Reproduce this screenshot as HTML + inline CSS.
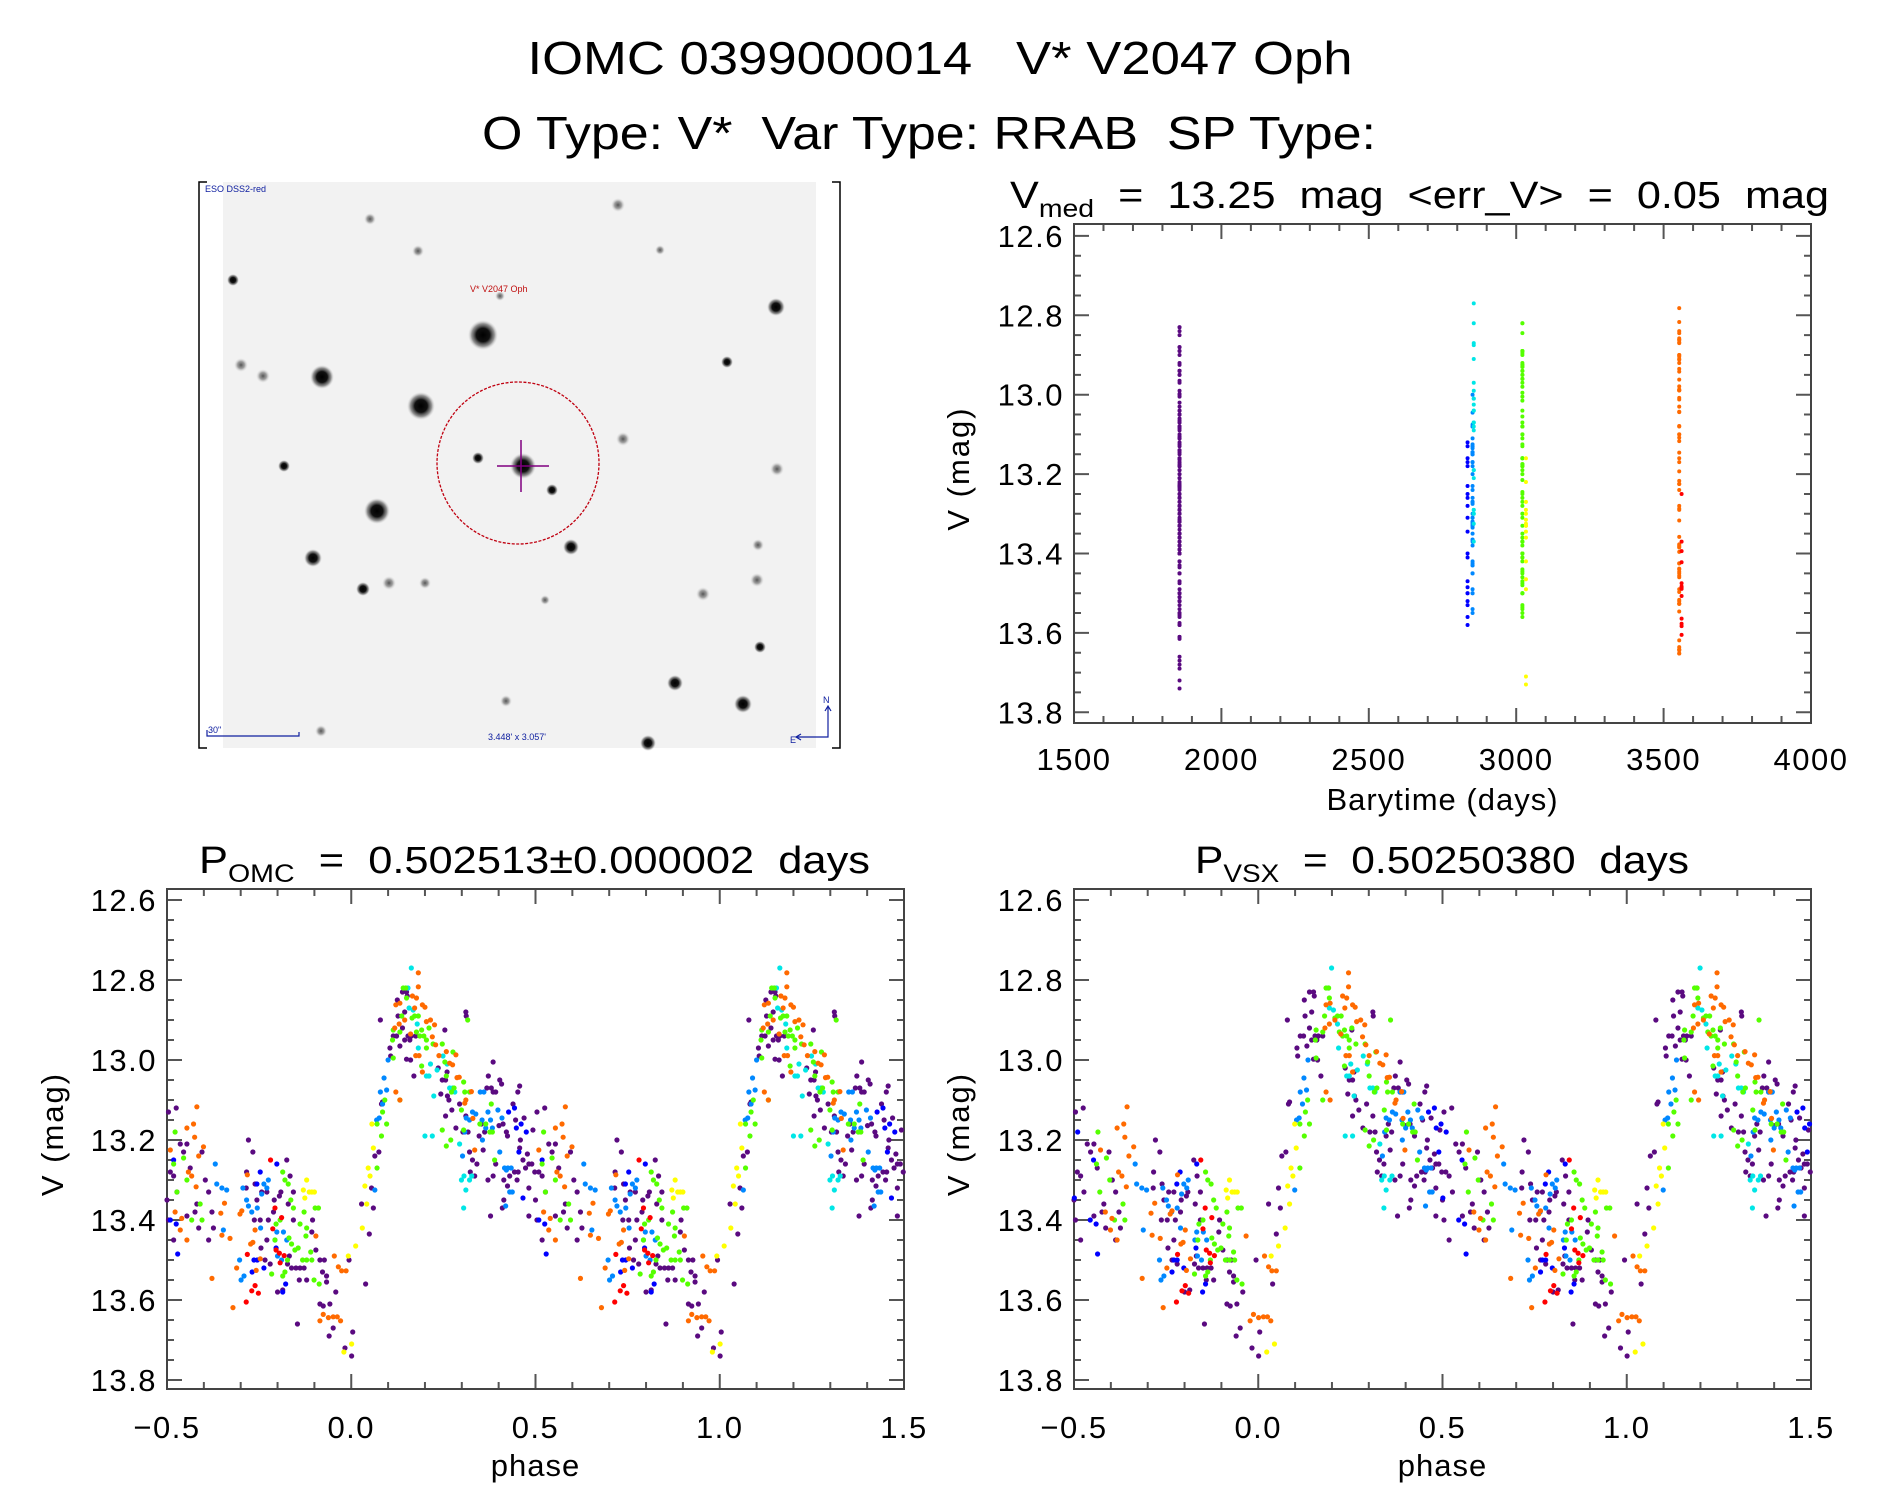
<!DOCTYPE html>
<html><head><meta charset="utf-8">
<style>
html,body{margin:0;padding:0;background:#fff;}
svg{display:block;font-family:"Liberation Sans","DejaVu Sans",sans-serif;}
text{white-space:pre;}
</style></head>
<body>
<svg id="fig" width="1889" height="1494" viewBox="0 0 1889 1494" xmlns="http://www.w3.org/2000/svg" xml:space="preserve">
<defs>
<radialGradient id="starg"><stop offset="0" stop-color="#000"/><stop offset="0.45" stop-color="#111"/><stop offset="0.75" stop-color="#666" stop-opacity="0.7"/><stop offset="1" stop-color="#ccc" stop-opacity="0"/></radialGradient>
<radialGradient id="starf"><stop offset="0" stop-color="#555"/><stop offset="0.5" stop-color="#888" stop-opacity="0.8"/><stop offset="1" stop-color="#ddd" stop-opacity="0"/></radialGradient>
</defs>
<text x="940" y="74" font-size="46" text-anchor="middle" textLength="825" lengthAdjust="spacingAndGlyphs" fill="#000">IOMC 0399000014   V* V2047 Oph</text>
<text x="929" y="149" font-size="46" text-anchor="middle" textLength="894" lengthAdjust="spacingAndGlyphs" fill="#000">O Type: V*  Var Type: RRAB  SP Type:</text>

<g id="skyimg">
<rect x="199" y="182" width="641" height="566" fill="#fff"/>
<rect x="223" y="182" width="593" height="566" fill="#f2f2f2"/>
<path d="M207 182 H199 V748 H207 M832 182 H840 V748 H832" fill="none" stroke="#000" stroke-width="1.5"/>
</g>
<g id="plots"></g>
</svg>
<script>
// ---------------- data ----------------
const groupNames = ['purple','blue','azure','cyan','green','yellow','orange','red'];
const groupColors = ['#5a0a80','#0000ff','#0088ff','#00e6e6','#55ff00','#ffff00','#ff6a00','#ff0000'];
const groupTimes = [1858, 2835, 2852, 2856, 3021, 3033, 3553, 3561];
const groupShiftVSX = [0.0, 0.035, 0.035, 0.036, 0.043, 0.043, 0.063, 0.063];

const purplePts = [[-0.496,13.13],[-0.475,13.12],[-0.491,13.28],[-0.482,13.29],[-0.5,13.35],[-0.473,13.33],[-0.496,13.40],[-0.482,13.45],[-0.464,13.21],[-0.446,13.21],[-0.455,13.23],[-0.437,13.27],[-0.446,13.39],[-0.424,13.38],[-0.419,13.36],[-0.396,13.30],[-0.405,13.23],[-0.414,13.42],[-0.387,13.33],[-0.378,13.38],[-0.374,13.42],[-0.387,13.45],[-0.279,13.20],[-0.267,13.23],[-0.284,13.28],[-0.285,13.32],[-0.261,13.31],[-0.256,13.35],[-0.243,13.33],[-0.229,13.33],[-0.263,13.40],[-0.247,13.40],[-0.225,13.40],[-0.229,13.45],[-0.245,13.47],[-0.234,13.50],[-0.220,13.51],[-0.211,13.38],[-0.209,13.35],[-0.195,13.34],[-0.191,13.33],[-0.175,13.25],[-0.166,13.29],[-0.171,13.36],[-0.157,13.33],[-0.157,13.40],[-0.168,13.49],[-0.173,13.51],[-0.162,13.52],[-0.150,13.52],[-0.139,13.52],[-0.128,13.52],[-0.141,13.55],[-0.121,13.55],[-0.107,13.43],[-0.096,13.475],[-0.105,13.40],[-0.085,13.50],[-0.073,13.50],[-0.078,13.53],[-0.067,13.54],[-0.067,13.555],[-0.085,13.61],[-0.076,13.615],[-0.058,13.61],[-0.042,13.58],[-0.200,13.58],[-0.186,13.575],[-0.146,13.66],[-0.060,13.69],[-0.049,13.67],[-0.017,13.72],[0.001,13.74],[0.004,13.68],[-0.006,13.50],[0.028,13.36],[0.039,13.56],[0.049,13.435],[0.060,13.37],[0.055,13.32],[0.075,13.23],[0.064,13.24],[0.079,12.90],[0.082,13.11],[0.085,13.105],[0.105,12.97],[0.107,12.99],[0.114,12.94],[0.125,12.85],[0.127,12.89],[0.123,12.94],[0.132,12.965],[0.139,12.92],[0.145,12.88],[0.150,12.83],[0.152,12.84],[0.139,12.83],[0.145,12.95],[0.154,12.94],[0.159,12.95],[0.163,12.94],[0.150,12.998],[0.161,13.00],[0.170,13.04],[0.175,12.94],[0.254,12.925],[0.311,12.88],[0.312,12.89],[0.236,13.02],[0.247,13.05],[0.256,13.05],[0.260,13.03],[0.243,13.085],[0.256,13.14],[0.261,13.09],[0.265,13.10],[0.273,13.125],[0.284,13.17],[0.294,13.11],[0.303,13.18],[0.311,13.14],[0.317,13.18],[0.321,13.23],[0.329,13.25],[0.323,13.28],[0.335,13.29],[0.341,13.26],[0.347,13.19],[0.353,13.16],[0.358,13.225],[0.362,13.18],[0.368,13.07],[0.380,13.07],[0.385,13.005],[0.372,13.04],[0.385,13.08],[0.392,13.08],[0.403,13.05],[0.408,13.06],[0.412,13.16],[0.401,13.164],[0.421,13.18],[0.424,13.19],[0.392,13.26],[0.385,13.29],[0.371,13.30],[0.378,13.39],[0.414,13.30],[0.424,13.315],[0.414,13.35],[0.410,13.37],[0.430,13.29],[0.443,13.28],[0.453,13.28],[0.450,13.30],[0.457,13.065],[0.452,13.08],[0.439,13.11],[0.446,13.15],[0.469,13.145],[0.459,13.20],[0.457,13.22],[0.466,13.25],[0.473,13.27],[0.478,13.235],[0.482,13.26],[0.493,13.175],[0.490,13.26],[0.498,13.28],[0.482,13.32],[0.482,13.39]];
const bluePts = [[-0.482,13.25],[-0.475,13.41],[-0.471,13.485],[-0.491,13.40],[-0.247,13.28],[-0.256,13.31],[-0.202,13.26],[-0.204,13.47],[-0.264,13.50],[-0.255,13.50],[-0.237,13.52],[-0.269,13.53],[-0.186,13.58],[-0.178,13.56],[0.427,13.13],[0.443,13.12],[0.448,13.17],[0.455,13.23],[0.466,13.345],[0.475,13.18],[0.461,13.16]];
const azurePts = [[-0.369,13.26],[-0.365,13.31],[-0.351,13.32],[-0.338,13.325],[-0.347,13.425],[-0.294,13.32],[-0.303,13.50],[-0.299,13.55],[-0.291,13.54],[-0.284,13.35],[-0.279,13.365],[-0.270,13.38],[-0.255,13.37],[-0.243,13.335],[-0.237,13.31],[-0.229,13.32],[-0.225,13.30],[-0.246,13.42],[-0.207,13.45],[-0.202,13.43],[-0.184,13.43],[-0.175,13.45],[-0.200,13.49],[-0.189,13.50],[0.064,13.325],[0.069,13.15],[0.076,13.145],[0.079,13.08],[0.085,13.11],[0.089,13.045],[0.096,13.075],[0.100,13.00],[0.302,13.24],[0.308,13.18],[0.312,13.145],[0.321,13.15],[0.329,13.13],[0.338,13.135],[0.350,13.08],[0.360,13.08],[0.355,13.15],[0.365,13.17],[0.371,13.13],[0.378,13.15],[0.383,13.17],[0.398,13.125],[0.403,13.23],[0.409,13.145],[0.416,13.27],[0.421,13.275],[0.425,13.27],[0.434,13.27],[0.430,13.33],[0.437,13.33],[0.419,13.365],[0.356,13.20]];
const cyanPts = [[0.163,12.77],[0.154,12.82],[0.157,12.87],[0.168,12.875],[0.179,12.91],[0.182,12.97],[0.204,13.04],[0.211,13.04],[0.215,13.01],[0.224,13.09],[0.233,13.025],[0.249,12.99],[0.260,13.01],[0.267,13.07],[0.275,13.07],[0.281,13.08],[0.200,13.19],[0.220,13.19],[0.299,13.30],[0.306,13.29],[0.321,13.30],[0.327,13.29],[0.311,13.325],[0.305,13.37],[0.294,13.21]];
const greenPts = [[-0.478,13.18],[-0.482,13.26],[-0.455,13.245],[-0.473,13.33],[-0.446,13.30],[-0.433,13.40],[-0.410,13.36],[-0.405,13.40],[-0.207,13.45],[-0.204,13.41],[-0.193,13.40],[-0.186,13.28],[-0.180,13.30],[-0.171,13.31],[-0.164,13.35],[-0.157,13.37],[-0.169,13.445],[-0.162,13.46],[-0.153,13.475],[-0.144,13.47],[-0.123,13.44],[-0.121,13.42],[-0.128,13.38],[-0.139,13.41],[-0.110,13.48],[-0.107,13.50],[-0.121,13.50],[-0.132,13.50],[-0.173,13.50],[-0.180,13.53],[-0.186,13.54],[-0.216,13.535],[-0.098,13.37],[-0.089,13.37],[-0.101,13.55],[-0.087,13.56],[0.070,13.16],[0.082,13.19],[0.085,13.13],[0.091,13.10],[0.096,13.16],[0.070,13.27],[0.112,12.95],[0.114,12.995],[0.132,13.10],[0.114,12.925],[0.132,12.93],[0.137,12.89],[0.141,12.82],[0.148,12.82],[0.150,12.845],[0.165,12.895],[0.172,12.89],[0.182,12.89],[0.177,12.93],[0.186,12.94],[0.191,12.925],[0.197,12.94],[0.204,12.95],[0.211,12.92],[0.204,12.97],[0.191,13.015],[0.222,12.96],[0.247,12.96],[0.254,13.005],[0.276,12.98],[0.258,13.04],[0.279,13.07],[0.305,13.055],[0.316,12.90],[0.247,13.175],[0.258,13.215],[0.270,13.20],[0.272,13.08],[0.299,13.125],[0.305,13.175],[0.308,13.08],[0.321,13.08],[0.365,13.16],[0.376,13.18],[0.380,13.11],[0.383,13.18],[0.389,13.25],[0.349,13.16]];
const yellowPts = [[-0.130,13.325],[-0.121,13.30],[-0.114,13.33],[-0.107,13.33],[-0.100,13.33],[-0.126,13.345],[-0.008,13.49],[0.012,13.465],[-0.020,13.73],[0.001,13.71],[0.030,13.42],[0.042,13.36],[0.037,13.315],[0.051,13.29],[0.046,13.27],[0.060,13.22],[0.056,13.16]];
const orangePts = [[-0.491,13.225],[-0.446,13.17],[-0.428,13.16],[-0.419,13.117],[-0.425,13.193],[-0.414,13.24],[-0.401,13.217],[-0.433,13.29],[-0.442,13.28],[-0.478,13.38],[-0.460,13.396],[-0.464,13.425],[-0.446,13.45],[-0.421,13.317],[-0.378,13.546],[-0.351,13.438],[-0.329,13.446],[-0.344,13.358],[-0.354,13.383],[-0.321,13.619],[-0.311,13.52],[-0.302,13.385],[-0.297,13.377],[-0.282,13.287],[-0.273,13.46],[-0.267,13.456],[-0.261,13.425],[-0.258,13.526],[-0.247,13.497],[-0.096,13.44],[-0.046,13.49],[-0.035,13.517],[-0.026,13.527],[-0.014,13.527],[-0.076,13.636],[-0.085,13.652],[-0.062,13.644],[-0.049,13.642],[-0.029,13.652],[-0.038,13.642],[0.121,13.08],[0.132,13.10],[0.118,12.92],[0.130,12.91],[0.145,12.90],[0.161,12.935],[0.166,12.84],[0.177,12.845],[0.172,12.87],[0.182,12.817],[0.182,12.782],[0.193,12.862],[0.200,12.868],[0.204,12.904],[0.215,12.90],[0.226,12.912],[0.220,12.942],[0.229,12.962],[0.175,12.989],[0.184,12.989],[0.193,13.03],[0.238,12.989],[0.258,12.979],[0.284,12.987],[0.275,13.012],[0.267,13.008],[0.287,13.044],[0.326,13.079],[0.311,13.10],[0.121,12.862],[0.132,12.858],[0.335,13.225],[0.330,13.146],[0.293,13.043],[0.308,13.108]];
const redPts = [[-0.219,13.25],[-0.207,13.37],[-0.189,13.394],[-0.213,13.422],[-0.204,13.475],[-0.195,13.483],[-0.193,13.507],[-0.182,13.489],[-0.282,13.486],[-0.261,13.564],[-0.270,13.577],[-0.252,13.583],[-0.285,13.605]];
const groupPts = [purplePts, bluePts, azurePts, cyanPts, greenPts, yellowPts, orangePts, redPts];

const magTicks = [12.6, 12.8, 13.0, 13.2, 13.4, 13.6, 13.8];
const magTickLabels = ['12.6','12.8','13.0','13.2','13.4','13.6','13.8'];
const phaseTicks = [-0.5, 0.0, 0.5, 1.0, 1.5];
const phaseTickLabels = ['\u22120.5','0.0','0.5','1.0','1.5'];
const timeTicks = [1500, 2000, 2500, 3000, 3500, 4000];
const timeTickLabels = ['1500','2000','2500','3000','3500','4000'];

const stars = [[483,335,15],[421,406,14],[322,377,12],[377,511,13],[523,466,13],[776,307,9],[313,558,9],[571,547,8],[363,589,7],[675,683,8],[743,704,9],[760,647,6],[648,743,8],[727,362,6],[233,280,6],[552,490,6],[478,458,6],[284,466,6],[703,594,5],[757,580,5],[389,583,5],[777,469,5],[263,376,5],[241,365,5],[618,205,5],[370,219,4],[623,439,5],[425,583,4],[506,701,4],[418,251,4],[321,731,4],[758,545,4],[500,296,3],[660,250,3],[545,600,3]];

// ---------------- drawing ----------------
const NS = 'http://www.w3.org/2000/svg';
const root = document.getElementById('plots');
function mk(tag, attrs, parent){
  const e = document.createElementNS(NS, tag);
  for (const k in attrs) e.setAttribute(k, attrs[k]);
  (parent||root).appendChild(e);
  return e;
}

// sky image stars
const sky = document.getElementById('skyimg');
stars.forEach(s=>{
  const small = s[2] <= 5;
  const c = mk('circle',{cx:s[0],cy:s[1],r:small ? s[2]+2 : s[2],fill:small ? 'url(#starf)' : 'url(#starg)'},sky);
  
  
});
{
  const circ = mk('ellipse',{cx:518,cy:463,rx:81,ry:81,fill:'none',stroke:'#c00010','stroke-width':1.3,'stroke-dasharray':'3 1.5'},sky);
  
  
  const cross = mk('path',{d:'M497 466 H549 M521 440 V492',stroke:'#800080','stroke-width':1.5,fill:'none'},sky);
  
  
  const t1 = mk('text',{x:205,y:192,'font-size':9,fill:'#1020a0'},sky); t1.textContent='ESO DSS2-red';
   
  const t2 = mk('text',{x:470,y:292,'font-size':9,fill:'#c01010'},sky); t2.textContent='V* V2047 Oph';
   
  const t3 = mk('text',{x:208,y:733,'font-size':9,fill:'#1020a0'},sky); t3.textContent='30"';
   
  const sb = mk('path',{d:'M207 730 V736 H299 V732',stroke:'#1020a0','stroke-width':1.2,fill:'none'},sky);
   
  const t4 = mk('text',{x:488,y:740,'font-size':9,fill:'#1020a0'},sky); t4.textContent="3.448' x 3.057'";
   
  const ar = mk('path',{d:'M828 707 V737 H797 M825 711 L828 706 L831 711 M801 734 L796 737 L801 740',stroke:'#1020a0','stroke-width':1.2,fill:'none'},sky);
   
  const tn = mk('text',{x:823,y:703,'font-size':9,fill:'#1020a0'},sky); tn.textContent='N';
   
  const te = mk('text',{x:790,y:743,'font-size':9,fill:'#1020a0'},sky); te.textContent='E';
   
}

function makePanel(cfg){
  const g = mk('g',{});
  
  
  const {x0,x1,y0,y1,xmin,xmax,ymin,ymax} = cfg;
  const sx = v => x0 + (v - xmin) / (xmax - xmin) * (x1 - x0);
  const sy = v => y0 + (v - ymin) / (ymax - ymin) * (y1 - y0);
  let d = '';
  const xMinStep = cfg.xMinor;
  for (let v = xmin; v <= xmax + 1e-9; v += xMinStep){
    const vv = Math.round(v/xMinStep)*xMinStep;
    const major = cfg.xTicks.some(t=>Math.abs(t-vv)<1e-6);
    const L = major ? 15 : 7;
    const X = sx(vv);
    d += `M${X} ${y1} V${y1-L} M${X} ${y0} V${y0+L} `;
  }
  const yStart = Math.ceil(ymin / cfg.yMinor - 1e-9) * cfg.yMinor;
  for (let v = yStart; v <= ymax + 1e-9; v += cfg.yMinor){
    const vv = Math.round(v/cfg.yMinor)*cfg.yMinor;
    const major = cfg.yTicks.some(t=>Math.abs(t-vv)<1e-6);
    const L = major ? 15 : 7;
    const Y = sy(vv);
    d += `M${x0} ${Y} H${x0+L} M${x1} ${Y} H${x1-L} `;
  }
  const tk = mk('path',{d:d,stroke:'#555','stroke-width':2,fill:'none'},g);
  
  
  const fr = mk('rect',{x:x0,y:y0,width:x1-x0,height:y1-y0,fill:'none',stroke:'#444','stroke-width':2},g);
  
  
  cfg.xTicks.forEach((t,i)=>{
    const e = mk('text',{x:sx(t),y:cfg.xLabelY,'font-size':31,'text-anchor':'middle','letter-spacing':1.5,fill:'#000'},g);
    e.textContent = cfg.xLabels[i];
    
    
  });
  cfg.yTicks.forEach((t,i)=>{
    const e = mk('text',{x:x0-10,y:sy(t)+11,'font-size':31,'text-anchor':'end','letter-spacing':1.5,fill:'#000'},g);
    e.textContent = cfg.yLabels[i];
    
    
  });
  const xt = mk('text',{x:(x0+x1)/2,y:cfg.xTitleY,'font-size':31,'text-anchor':'middle','letter-spacing':1,fill:'#000'},g);
  xt.textContent = cfg.xTitle;
  
  
  const yc = (y0+y1)/2 - 5;
  const yt = mk('text',{x:cfg.yTitleX,y:yc,'font-size':31,'text-anchor':'middle','letter-spacing':2,fill:'#000',transform:`rotate(-90 ${cfg.yTitleX} ${yc})`},g);
  yt.textContent = 'V (mag)';
  
  
  return {g, sx, sy};
}

function panelTitle(x, y, w, main, sub, rest, name){
  const t = mk('text',{x:x,y:y,'font-size':38,fill:'#000',textLength:w,lengthAdjust:'spacingAndGlyphs'});
  
  
  const a = mk('tspan',{},t); a.textContent = main;
  const b = mk('tspan',{'font-size':25,dy:9},t); b.textContent = sub;
  const c = mk('tspan',{dy:-9},t); c.textContent = rest;
}

// Top-right: time series
const pT = makePanel({name:'time-series-panel',x0:1074,x1:1811,y0:224,y1:723,xmin:1500,xmax:4000,ymin:12.57,ymax:13.827,
  xTicks:timeTicks,xLabels:timeTickLabels,xMinor:100,yTicks:magTicks,yLabels:magTickLabels,yMinor:0.05,
  xLabelY:770,xTitleY:810,xTitle:'Barytime (days)',yTitleX:969});
panelTitle(1010,208,819,'V','med','  =  13.25  mag  <err_V>  =  0.05  mag','time-series-title');
groupPts.forEach((pts,gi)=>{
  pts.forEach(p=>{
    const c = mk('circle',{cx:pT.sx(groupTimes[gi]),cy:pT.sy(p[1]),r:2,fill:groupColors[gi]},pT.g);
    
    
  });
});

function phasePanel(name, x0, x1, titleX, titleW, sub, rest, yTitleX, useShift){
  const P = makePanel({name:name,x0:x0,x1:x1,y0:889,y1:1389,xmin:-0.5,xmax:1.5,ymin:12.5725,ymax:13.8225,
    xTicks:phaseTicks,xLabels:phaseTickLabels,xMinor:0.1,yTicks:magTicks,yLabels:magTickLabels,yMinor:0.05,
    xLabelY:1438,xTitleY:1476,xTitle:'phase',yTitleX:yTitleX});
  panelTitle(titleX,873,titleW,'P',sub,rest,name+'-title');
  groupPts.forEach((pts,gi)=>{
    pts.forEach(p=>{
      let ph = p[0] + (useShift ? groupShiftVSX[gi] : 0);
      if (ph >= 0.5) ph -= 1;
      [ph, ph+1].forEach(v=>{
        if (v < -0.5 || v > 1.5) return;
        const c = mk('circle',{cx:P.sx(v),cy:P.sy(p[1]),r:2.6,fill:groupColors[gi]},P.g);
        
        
      });
    });
  });
}
phasePanel('omc-phase-panel',167,904,199,671,'OMC','  =  0.502513\u00b10.000002  days',63,false);
phasePanel('vsx-phase-panel',1074,1811,1195,494,'VSX','  =  0.50250380  days',969,true);
</script>
</body></html>
